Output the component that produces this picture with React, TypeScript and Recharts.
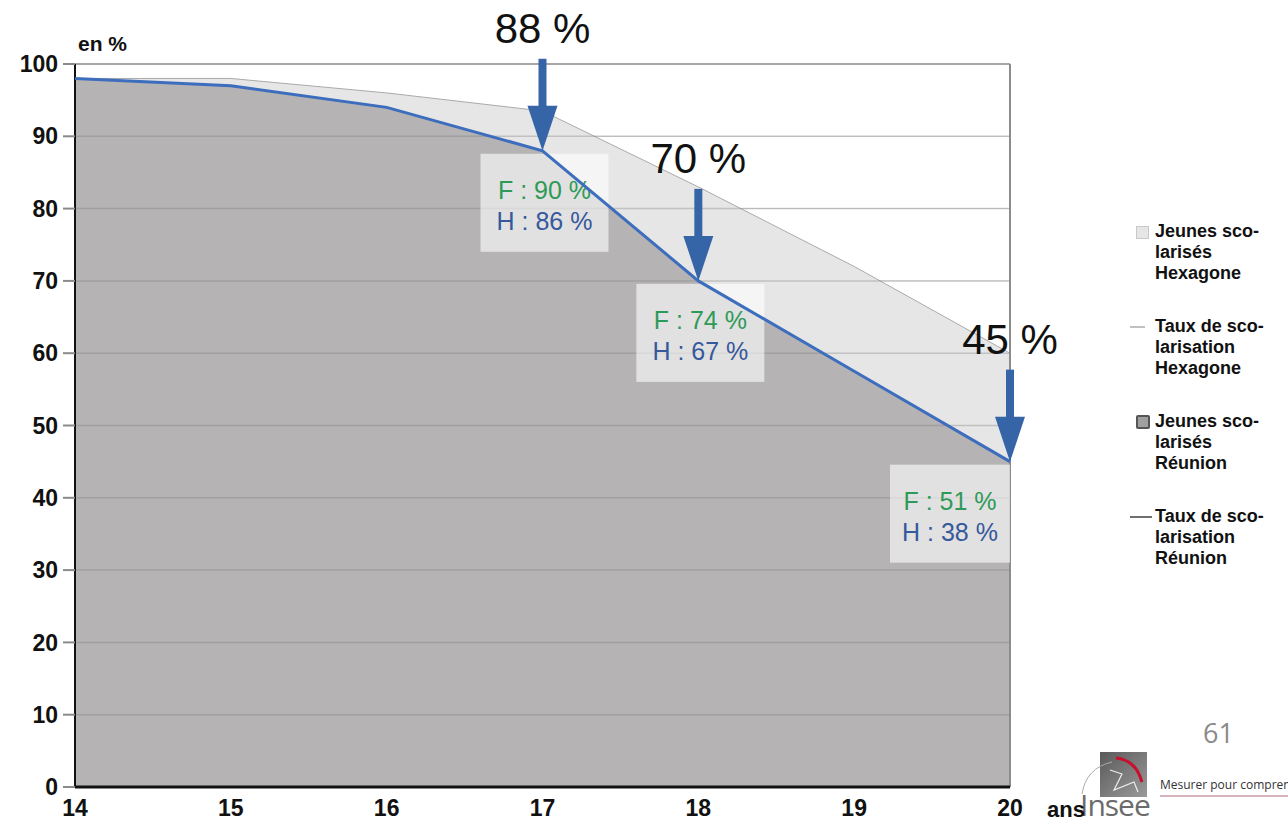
import { Area, CartesianGrid, ComposedChart, LabelList, Line, ReferenceLine, XAxis, YAxis } from "recharts";

// Taux de scolarisation par âge, Réunion vs Hexagone (en %)
const ages = [14, 15, 16, 17, 18, 19, 20];
const tauxHexagone = [98, 98, 96, 93.5, 83, 72, 60];
const tauxReunion = [98, 97, 94, 88, 70, 57.5, 45];
// détail filles / hommes aux âges annotés
const tauxFilles = [null, null, null, 90, 74, null, 51];
const tauxHommes = [null, null, null, 86, 67, null, 38];

const ticksY = [0, 10, 20, 30, 40, 50, 60, 70, 80, 90, 100];
const grilleY = [10, 20, 30, 40, 50, 60, 70, 80, 90];

const legende = [
  { lignes: ["Jeunes sco-", "larisés", "Hexagone"], type: "carre-clair" },
  { lignes: ["Taux de sco-", "larisation", "Hexagone"], type: "trait-clair" },
  { lignes: ["Jeunes sco-", "larisés", "Réunion"], type: "carre-fonce" },
  { lignes: ["Taux de sco-", "larisation", "Réunion"], type: "trait-fonce" },
];

const data = ages.map((a, i) => ({
  age: a,
  hexagone: tauxHexagone[i],
  reunion: tauxReunion[i],
  filles: tauxFilles[i],
  hommes: tauxHommes[i],
}));

const BLEU = "#3d6dbd";
const FLECHE = "#3565a6";
const POLICE = "'Liberation Sans', Arial, sans-serif";

// encadré F / H, sous la courbe bleue
function Encadre(props: any) {
  const { x, y, index } = props;
  const d = data[index];
  if (!d || d.filles == null) return null;
  const dernier = index === data.length - 1;
  const bx = dernier ? x - 120 : x - 62;
  const bw = dernier ? 120 : 128;
  const mx = bx + bw / 2;
  return (
    <g>
      <rect x={bx} y={y + 3} width={bw} height={98} fill="#ffffff" fillOpacity={0.6} />
      <text x={mx} y={y + 48} textAnchor="middle" fontSize={25} fontFamily={POLICE} fill="#2e9a58">
        {`F : ${d.filles} %`}
      </text>
      <text x={mx} y={y + 79} textAnchor="middle" fontSize={25} fontFamily={POLICE} fill="#36589c">
        {`H : ${d.hommes} %`}
      </text>
    </g>
  );
}

// flèche + taux global
function Fleche(props: any) {
  const { x, y, index } = props;
  const d = data[index];
  if (!d || d.filles == null) return null;
  return (
    <g>
      <text x={x} y={y - 108} textAnchor="middle" fontSize={42} fontFamily={POLICE} fill="#111">
        {`${d.reunion} %`}
      </text>
      <rect x={x - 4} y={y - 92} width={8} height={50} fill={FLECHE} />
      <path d={`M ${x - 15} ${y - 45} L ${x + 15} ${y - 45} L ${x} ${y} Z`} fill={FLECHE} />
    </g>
  );
}

function TickAge(props: any) {
  const { x, y, payload } = props;
  return (
    <text x={x} y={y + 21} textAnchor="middle" fontSize={23} fontWeight={700} fill="#111" fontFamily={POLICE}>
      {payload.value}
    </text>
  );
}

function IconeLegende({ type }: { type: string }) {
  if (type === "carre-clair")
    return <div style={{ width: 11, height: 11, background: "#e6e6e6", border: "1px solid #c8c8c8", marginLeft: 6, marginTop: 5 }} />;
  if (type === "carre-fonce")
    return <div style={{ width: 10, height: 10, background: "#a0a0a0", border: "2px solid #555", borderRadius: 2, marginLeft: 6, marginTop: 4 }} />;
  if (type === "trait-clair") return <div style={{ width: 15, height: 2, background: "#c0c0c0", marginTop: 10 }} />;
  return <div style={{ width: 22, height: 2, background: "#707070", marginTop: 10 }} />;
}

export default function App() {
  return (
    <div style={{ position: "absolute", left: 0, top: 0, width: 1288, height: 821, background: "#fff", fontFamily: POLICE }}>
      <ComposedChart width={1288} height={821} data={data} margin={{ top: 64, right: 278, left: 15, bottom: 4 }}>
        <CartesianGrid vertical={false} stroke="#d9d9d9" />
        <XAxis
          dataKey="age"
          type="number"
          domain={[14, 20]}
          ticks={ages}
          tickLine={false}
          height={30}
          axisLine={{ stroke: "#111", strokeWidth: 3 }}
          tick={<TickAge />}
        />
        <YAxis
          domain={[0, 100]}
          ticks={ticksY}
          width={60}
          tickSize={12}
          tickMargin={5}
          tickLine={{ stroke: "#8a8a8a", strokeWidth: 2 }}
          axisLine={{ stroke: "#111", strokeWidth: 2 }}
          tick={{ fontSize: 23, fontWeight: 700, fill: "#111", fontFamily: POLICE }}
        />
        <Area type="linear" dataKey="hexagone" fill="#e6e6e6" fillOpacity={1} stroke="#aaaaaa" strokeWidth={1} isAnimationActive={false} />
        <Area type="linear" dataKey="reunion" fill="#b5b3b4" fillOpacity={1} stroke="none" isAnimationActive={false}>
          <LabelList dataKey="reunion" content={(p: any) => <Encadre {...p} />} />
        </Area>
        {grilleY.map((v) => (
          <ReferenceLine key={v} y={v} stroke="#7a7a7a" strokeOpacity={0.35} strokeWidth={1.5} />
        ))}
        <ReferenceLine y={100} stroke="#a6a6a6" strokeWidth={2} />
        <ReferenceLine x={20} stroke="#8c8c8c" strokeWidth={2} />
        <Line type="linear" dataKey="reunion" stroke={BLEU} strokeWidth={3} dot={false} isAnimationActive={false} zIndex={2500}>
          <LabelList dataKey="reunion" zIndex={2600} content={(p: any) => <Fleche {...p} />} />
        </Line>
      </ComposedChart>

      <div style={{ position: "absolute", left: 78, top: 32, fontSize: 21, fontWeight: 700, color: "#111" }}>en %</div>
      <div style={{ position: "absolute", left: 1047, top: 797, fontSize: 22, fontWeight: 700, color: "#111", zIndex: 2 }}>ans</div>

      <div style={{ position: "absolute", left: 1130, top: 221, display: "flex", flexDirection: "column", gap: 32 }}>
        {legende.map((l, i) => (
          <div key={i} style={{ display: "flex", alignItems: "flex-start" }}>
            <div style={{ width: 25 }}>
              <IconeLegende type={l.type} />
            </div>
            <div style={{ fontSize: 18, fontWeight: 700, lineHeight: "21px", color: "#111" }}>
              {l.lignes.map((t, j) => (
                <div key={j}>{t}</div>
              ))}
            </div>
          </div>
        ))}
      </div>

      <div style={{ position: "absolute", left: 1203, top: 714, fontSize: 27, color: "#8a8a8a", fontFamily: "'Open Sans', sans-serif" }}>61</div>

      <svg style={{ position: "absolute", left: 1078, top: 748 }} width={210} height={73}>
        <defs>
          <linearGradient id="logo-grad" x1="0" y1="0" x2="1" y2="1">
            <stop offset="0%" stopColor="#5a5a5a" />
            <stop offset="100%" stopColor="#9a9a9a" />
          </linearGradient>
        </defs>
        <rect x={22} y={4} width={47} height={45} fill="url(#logo-grad)" />
        <path d="M 38 10 Q 58 12 64 34" stroke="#c8102e" strokeWidth={3} fill="none" />
        <path d="M 4 46 Q 8 20 34 14" stroke="#aaa" strokeWidth={1} fill="none" />
        <path d="M 32 22 L 44 26 L 36 42 L 56 34 L 60 44" stroke="#eee" strokeWidth={1.2} fill="none" />
        <text x={2} y={68} fontSize={30} fill="#6b6b6b" fontFamily="'Open Sans', sans-serif" letterSpacing={-1}>
          Insee
        </text>
        <text x={82} y={41} fontSize={12} fill="#333" fontFamily="'Open Sans', sans-serif">
          Mesurer pour comprendre
        </text>
        <line x1={82} y1={48} x2={210} y2={48} stroke="#c99aa4" strokeWidth={1.5} />
      </svg>
    </div>
  );
}
